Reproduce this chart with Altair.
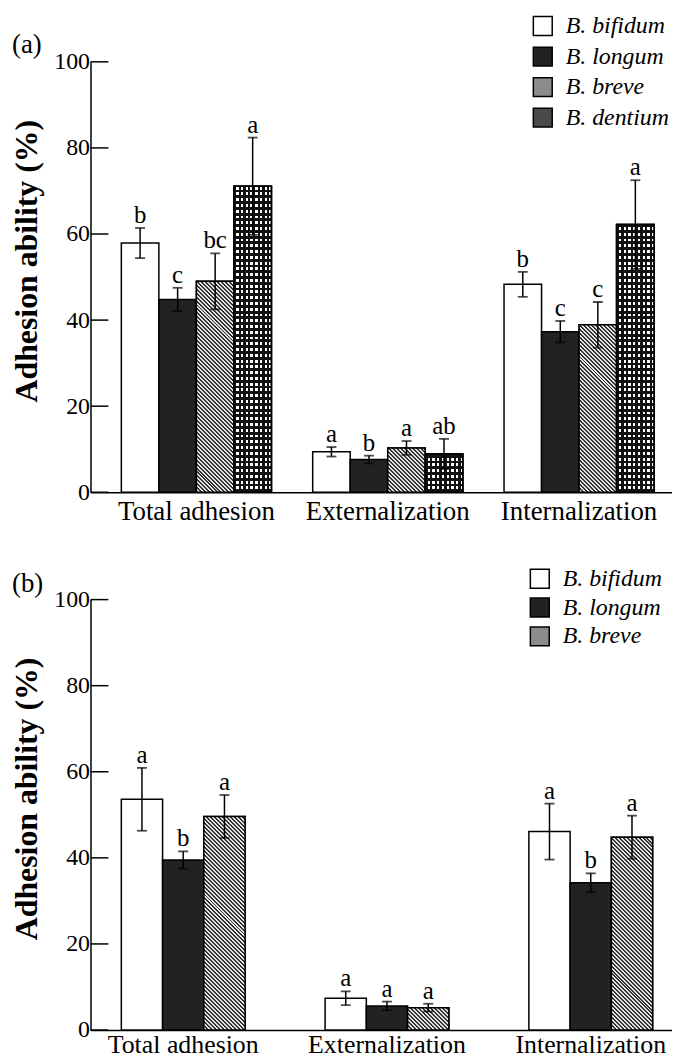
import altair as alt
import pandas as pd

# ---------------- data ----------------
categories = ["Total adhesion", "Externalization", "Internalization"]
y_ticks = [0, 20, 40, 60, 80, 100]

# panel (a)
species_a = ["B. bifidum", "B. longum", "B. breve", "B. dentium"]
a_bifidum = [57.9, 9.4, 48.3]
a_longum = [44.8, 7.6, 37.3]
a_breve = [49.0, 10.3, 38.9]
a_dentium = [71.1, 8.9, 62.2]
a_bifidum_err = [3.5, 1.1, 2.9]
a_longum_err = [2.7, 0.9, 2.5]
a_breve_err = [6.5, 1.6, 5.3]
a_dentium_err = [11.3, 3.5, 10.3]
a_bifidum_sig = ["b", "a", "b"]
a_longum_sig = ["c", "b", "c"]
a_breve_sig = ["bc", "a", "c"]
a_dentium_sig = ["a", "ab", "a"]

# panel (b)
species_b = ["B. bifidum", "B. longum", "B. breve"]
b_bifidum = [53.6, 7.4, 46.1]
b_longum = [39.5, 5.6, 34.2]
b_breve = [49.6, 5.2, 44.8]
b_bifidum_err = [7.3, 1.6, 6.5]
b_longum_err = [2.0, 1.0, 2.2]
b_breve_err = [5.0, 0.9, 5.0]
b_bifidum_sig = ["a", "a", "a"]
b_longum_sig = ["b", "a", "b"]
b_breve_sig = ["a", "a", "a"]

# ---------------- styling ----------------
FONT = "Liberation Serif"
PANEL_W = 585
PANEL_H = 433


def build_df(species, vals, errs, sigs):
    rows = []
    for sp, v, e, s in zip(species, vals, errs, sigs):
        for c, vv, ee, ss in zip(categories, v, e, s):
            rows.append(dict(category=c, species=sp, value=vv, err=ee, sig=ss,
                             lo=vv - ee, hi=vv + ee))
    return pd.DataFrame(rows)


def band_width(W, n, pi, po):
    step = W / (n - pi + 2 * po)
    return step * (1 - pi)


def _stops(step, c1, c2, frac):
    out = []
    t = 0.0
    while t < 1 - 1e-9:
        t1 = min(t + step * frac, 1.0)
        t2 = min(t + step, 1.0)
        out += [{"offset": round(t, 5), "color": c1}, {"offset": round(t1, 5), "color": c1},
                {"offset": round(t1, 5), "color": c2}, {"offset": round(t2, 5), "color": c2}]
        t = t2
    return out


def diag_fill(w, h, period=4.0, dark="#333333", light="#e4e4e4", frac=0.5):
    b = h / w
    k = (1 + b) / (1 + b * b)
    L = w + h
    return {"gradient": "linear", "x1": 0, "y1": 1, "x2": round(k, 6), "y2": round(1 - k * b, 6),
            "stops": _stops(period / L, dark, light, frac)}


def hstripe_fill(h, period=5.8, dark="#111111", light="#ffffff", frac=0.5):
    return {"gradient": "linear", "x1": 0, "y1": 1, "x2": 0, "y2": 0,
            "stops": _stops(period / h, dark, light, frac)}


def vstripe_fill(w, period=4.75, dark="#111111", frac=0.5):
    return {"gradient": "linear", "x1": 0, "y1": 0, "x2": 1, "y2": 0,
            "stops": _stops(period / w, dark, "rgba(0,0,0,0)", frac)}


def panel(df, species, colors, tag, pi, po, align, leg_x, leg_y, row_pad, title_dy,
          xlab_size, xlab_pad):
    bar_w = band_width(PANEL_W, len(categories), pi, po) / len(species)
    xs = alt.Scale(domain=categories, paddingInner=pi, paddingOuter=po, align=align)
    xos = alt.Scale(domain=species, paddingInner=0, paddingOuter=0)
    ys = alt.Scale(domain=[0, 100], nice=False, zero=True)
    x_axis = alt.Axis(title=None, labelAngle=0, labelFont=FONT, labelFontSize=xlab_size,
                      labelColor="black", ticks=False, domainColor="black",
                      domainWidth=1.5, labelPadding=xlab_pad, grid=False)
    y_axis = alt.Axis(title="Adhesion ability (%)", values=y_ticks, labelFont=FONT,
                      labelFontSize=24, labelColor="black", ticks=False, tickSize=0,
                      labelPadding=1, domainColor="black", domainWidth=1.5, grid=False,
                      titleFont=FONT, titleFontSize=32, titleFontWeight="bold",
                      titleColor="black", titlePadding=10, titleY=200)
    X = alt.X("category:N", scale=xs, axis=x_axis, sort=categories)
    XO = alt.XOffset("species:N", scale=xos, sort=species)

    def Y(f):
        return alt.Y(f + ":Q", scale=ys, axis=y_axis)

    base = alt.Chart(df)
    legend = alt.Legend(title=None, orient="none", legendX=leg_x, legendY=leg_y,
                        symbolType="square", symbolSize=361, symbolStrokeColor="black",
                        symbolStrokeWidth=1.5, symbolOpacity=1, labelFont=FONT,
                        labelFontStyle="italic", labelFontSize=24, labelColor="black",
                        rowPadding=row_pad, labelOffset=11, padding=0)
    layers = [base.mark_bar(stroke="black", strokeWidth=1.5, opacity=1).encode(
        x=X, xOffset=XO, y=Y("value"),
        color=alt.Color("species:N", scale=alt.Scale(domain=species, range=colors),
                        legend=legend, sort=species))]

    for _, r in df.iterrows():
        h = r["value"] * PANEL_H / 100.0
        flt = f"datum.category === '{r['category']}' && datum.species === '{r['species']}'"
        if r["species"] == "B. breve":
            layers.append(base.transform_filter(flt).mark_bar(
                fill=diag_fill(bar_w, h), stroke="black", strokeWidth=1.5).encode(
                x=X, xOffset=XO, y=Y("value")))
        elif r["species"] == "B. dentium":
            layers.append(base.transform_filter(flt).mark_bar(
                fill=hstripe_fill(h), stroke="black", strokeWidth=1.5).encode(
                x=X, xOffset=XO, y=Y("value")))
            layers.append(base.transform_filter(flt).mark_bar(
                fill=vstripe_fill(bar_w), stroke="black", strokeWidth=1.5).encode(
                x=X, xOffset=XO, y=Y("value")))

    layers.append(base.mark_rule(color="black", strokeWidth=1.5).encode(
        x=X, xOffset=XO, y=Y("lo"), y2=alt.Y2("hi:Q")))
    layers.append(base.mark_tick(color="black", thickness=1.8, size=10).encode(
        x=X, xOffset=XO, y=Y("hi")))
    layers.append(base.mark_tick(color="black", thickness=1.8, size=10).encode(
        x=X, xOffset=XO, y=Y("lo")))
    layers.append(base.mark_text(font=FONT, fontSize=25, baseline="alphabetic", dy=-5,
                                 color="black").encode(
        x=X, xOffset=XO, y=Y("hi"), text="sig:N"))
    # inward y-axis ticks
    layers.append(alt.Chart(pd.DataFrame({"value": y_ticks})).mark_rule(
        color="black", strokeWidth=1.5).encode(y=Y("value"), x=alt.value(0), x2=alt.value(18)))

    title = alt.TitleParams(text=tag, anchor="start", frame="group", dx=-79, dy=title_dy,
                            font=FONT, fontSize=27, fontWeight="normal", color="black")
    return alt.layer(*layers).properties(width=PANEL_W, height=PANEL_H, title=title)


df_a = build_df(species_a, [a_bifidum, a_longum, a_breve, a_dentium],
                [a_bifidum_err, a_longum_err, a_breve_err, a_dentium_err],
                [a_bifidum_sig, a_longum_sig, a_breve_sig, a_dentium_sig])
df_b = build_df(species_b, [b_bifidum, b_longum, b_breve],
                [b_bifidum_err, b_longum_err, b_breve_err],
                [b_bifidum_sig, b_longum_sig, b_breve_sig])

pa = panel(df_a, species_a, ["#ffffff", "#222222", "#8c8c8c", "#4a4a4a"], "(a)",
           pi=0.2156, po=0.1273, align=0.633, leg_x=443, leg_y=-48, row_pad=4.7, title_dy=49,
           xlab_size=27, xlab_pad=6)
pb = panel(df_b, species_b, ["#ffffff", "#222222", "#8c8c8c"], "(b)",
           pi=0.3927, po=0.1232, align=0.614, leg_x=440, leg_y=-33, row_pad=3, title_dy=35,
           xlab_size=26, xlab_pad=2)

chart = alt.vconcat(pa, pb, spacing=43).resolve_scale(
    x="independent", xOffset="independent", y="independent", color="independent"
).properties(padding={"left": 3, "top": 3, "right": 0, "bottom": 0}).configure_view(stroke=None)

chart.save("out.html", embed_options={"renderer": "svg", "actions": False})
